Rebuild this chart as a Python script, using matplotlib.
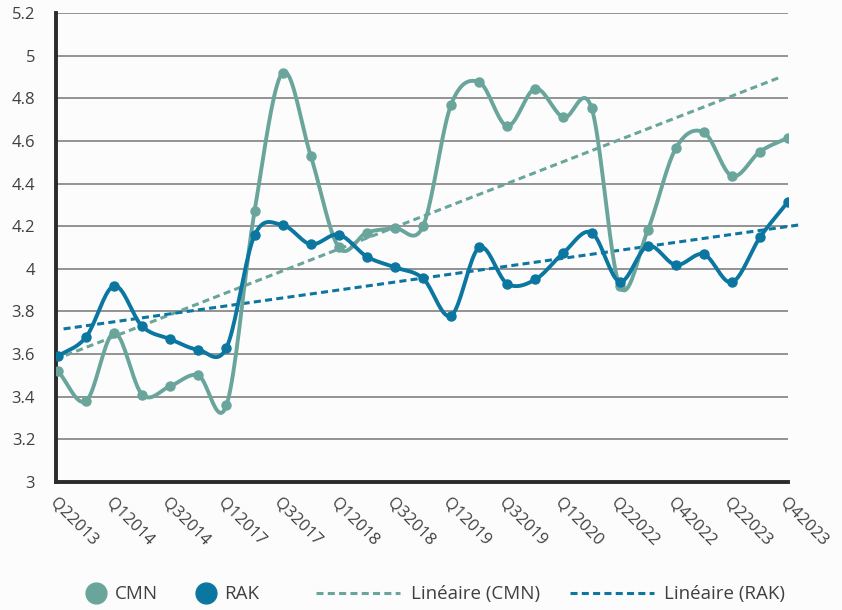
import numpy as np
import matplotlib.pyplot as plt
from matplotlib.lines import Line2D

quarters = ["Q22013", "Q42013", "Q12014", "Q22014", "Q32014", "Q42014",
            "Q12017", "Q22017", "Q32017", "Q42017", "Q12018", "Q22018",
            "Q32018", "Q42018", "Q12019", "Q22019", "Q32019", "Q42019",
            "Q12020", "Q12022", "Q22022", "Q32022", "Q42022", "Q12023",
            "Q22023", "Q32023", "Q42023"]
cmn = [3.52, 3.38, 3.70, 3.41, 3.45, 3.50, 3.36, 4.27, 4.92, 4.53,
       4.10, 4.17, 4.19, 4.20, 4.77, 4.875, 4.67, 4.845, 4.71, 4.755,
       3.92, 4.18, 4.565, 4.64, 4.435, 4.55, 4.615]
rak = [3.59, 3.68, 3.92, 3.73, 3.67, 3.62, 3.63, 4.157, 4.205, 4.115,
       4.16, 4.057, 4.007, 3.955, 3.78, 4.10, 3.93, 3.95, 4.075, 4.17,
       3.94, 4.107, 4.018, 4.068, 3.937, 4.148, 4.315]

# linear trendlines as drawn in the source (start / end points)
cmn_trend_x = [-0.1, 25.65]
cmn_trend = [3.575, 4.895]
rak_trend_x = [0.2, 26.4]
rak_trend = [3.718, 4.206]

c_cmn = "#6aa59c"
c_rak = "#0b76a0"


def smooth(x, y, n=20):
    # catmull-rom curve through the points, like excel's smoothed lines
    x = np.asarray(x, float)
    y = np.asarray(y, float)
    px = np.concatenate([[2 * x[0] - x[1]], x, [2 * x[-1] - x[-2]]])
    py = np.concatenate([[2 * y[0] - y[1]], y, [2 * y[-1] - y[-2]]])
    xs, ys = [], []
    t = np.linspace(0, 1, n, endpoint=False)
    for i in range(1, len(px) - 2):
        for p, out in ((px, xs), (py, ys)):
            p0, p1, p2, p3 = p[i - 1], p[i], p[i + 1], p[i + 2]
            out.append(0.5 * (2 * p1 + (-p0 + p2) * t
                              + (2 * p0 - 5 * p1 + 4 * p2 - p3) * t ** 2
                              + (-p0 + 3 * p1 - 3 * p2 + p3) * t ** 3))
    xs.append([x[-1]])
    ys.append([y[-1]])
    return np.concatenate(xs), np.concatenate(ys)


plt.rcParams['font.family'] = ['Open Sans', 'DejaVu Sans']
fig = plt.figure(figsize=(8.42, 6.10), dpi=100, facecolor="#fcfcfc")
ax = fig.add_axes([0.0665, 0.2098, 0.8695, 0.769])
ax.set_facecolor("#fcfcfc")

x = np.arange(len(quarters))
for vals, col in ((cmn, c_cmn), (rak, c_rak)):
    sx, sy = smooth(x, vals)
    ax.plot(sx, sy, color=col, lw=2.8, zorder=3, solid_capstyle="round")
    ax.plot(x, vals, "o", color=col, ms=6.5, zorder=4)

dash = (2.3, 1.4)
ax.plot(cmn_trend_x, cmn_trend, color=c_cmn, lw=2.2, dashes=dash, zorder=2, clip_on=False)
ax.plot(rak_trend_x, rak_trend, color=c_rak, lw=2.2, dashes=dash, zorder=2, clip_on=False)

ax.set_ylim(3, 5.2)
ax.set_xlim(-0.07, 26)
yt = np.round(np.arange(3, 5.21, 0.2), 1)
ax.set_yticks(yt)
ax.set_yticklabels([f"{v:g}" for v in yt], fontsize=12, color="#404040")
ax.yaxis.grid(True, color="#8a8a8a", lw=1.3)
ax.set_axisbelow(True)
ax.tick_params(axis="y", length=0, pad=15)

ax.set_xticks(x[::2])
ax.set_xticklabels(quarters[::2], rotation=-45, ha="left", va="top",
                   rotation_mode="anchor", fontsize=12, color="#404040")
ax.tick_params(axis="x", length=0, pad=9)

for s in ("top", "right"):
    ax.spines[s].set_visible(False)
for s in ("left", "bottom"):
    ax.spines[s].set_color("#2b2b2b")
    ax.spines[s].set_linewidth(2.8)

# legend: markers and trendlines in two groups so the marker handles stay compact
mk = [Line2D([], [], ls="none", marker="o", ms=15, color=c_cmn),
      Line2D([], [], ls="none", marker="o", ms=15, color=c_rak)]
fig.legend(mk, ["CMN", "RAK"], loc="center", bbox_to_anchor=(0.205, 0.026),
           ncol=2, frameon=False, fontsize=13.5, handlelength=1.1,
           columnspacing=2.0, handletextpad=0.45, labelcolor="#404040")
ln = [Line2D([], [], color=c_cmn, lw=2.2, dashes=dash),
      Line2D([], [], color=c_rak, lw=2.2, dashes=dash)]
fig.legend(ln, ["Linéaire (CMN)", "Linéaire (RAK)"], loc="center",
           bbox_to_anchor=(0.654, 0.026), ncol=2, frameon=False, fontsize=13.5,
           handlelength=4.5, columnspacing=1.6, handletextpad=0.55, labelcolor="#404040")

fig.savefig("out.png", dpi=100, facecolor=fig.get_facecolor())
